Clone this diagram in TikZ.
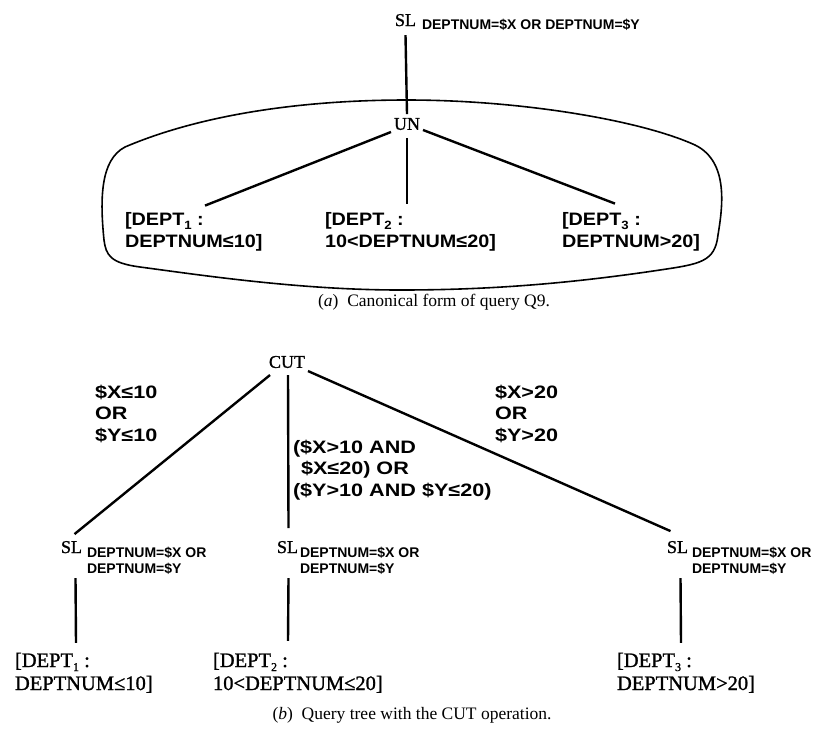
\documentclass[tikz,border=0pt]{standalone}
\usepackage{fontspec}
\setmainfont{Liberation Serif}
\newfontfamily\heavyserif[FakeBold=1.2]{Liberation Serif}
\newfontfamily\subfam{Liberation Sans}
\newfontfamily\deptfam[FakeStretch=1.1]{Liberation Sans}
\newfontfamily\condfam[FakeStretch=1.2]{Liberation Sans}
% text styles
\newcommand{\opfont}{\heavyserif\fontsize{18}{20}\selectfont}
\newcommand{\deptfont}{\deptfam\bfseries\fontsize{18}{22}\selectfont}
\newcommand{\leaffont}{\heavyserif\fontsize{20.5}{23}\selectfont}
\newcommand{\subfont}{\subfam\bfseries\fontsize{14}{16}\selectfont}
\newcommand{\condfont}{\condfam\bfseries\fontsize{18}{21.5}\selectfont}
\newcommand{\capfont}{\fontsize{17.5}{19}\selectfont}
\newcommand{\twolines}[2]{\begin{tabular}[t]{@{}l@{}}#1\\#2\end{tabular}}
\newcommand{\idx}[1]{\raisebox{-4pt}{\fontsize{12}{12}\selectfont #1}}
\begin{document}
\begin{tikzpicture}[x=1pt,y=-1pt,
  txt/.style={inner sep=0pt,outer sep=0pt,anchor=base west},
  edge/.style={line width=2.4pt},
  hull/.style={line width=1.6pt}]
\useasboundingbox (0,0) rectangle (819,729);

% ---------- (a) canonical form ----------
\node[txt] (slA) at (395,26) {\opfont SL};
\node[txt] (slAs) at (422,29) {\subfont DEPTNUM=\$X OR DEPTNUM=\$Y};
\node[txt,anchor=center] (un) at (407,124) {\opfont UN};

\node[txt] (d1) at (125,225) {\deptfont\twolines{[DEPT\idx{1} :}{DEPTNUM≤10]}};
\node[txt] (d2) at (325,225) {\deptfont\twolines{[DEPT\idx{2} :}{10<DEPTNUM≤20]}};
\node[txt] (d3) at (562,225) {\deptfont\twolines{[DEPT\idx{3} :}{DEPTNUM>20]}};

\draw[edge] ([yshift=-9pt]slA.south) -- ([yshift=4pt]un.north);
\draw[edge] ([xshift=-3pt,yshift=-2pt]un.south west) -- ([xshift=80pt,yshift=4pt]d1.north west);
\draw[edge] ([yshift=-8pt]un.south) -- ([xshift=82pt,yshift=6pt]d2.north west);
\draw[edge] ([xshift=3pt,yshift=0pt]un.south east) -- ([xshift=53pt,yshift=6pt]d3.north west);

% enclosing outline of the union
\draw[hull] (104,240) .. controls (100,200) and (100,160) .. (125,147)
  .. controls (200,115) and (300,100) .. (407,100)
  .. controls (520,100) and (640,120) .. (695,145)
  .. controls (730,162) and (722,210) .. (718,235)
  .. controls (715,262) and (700,264) .. (660,270)
  .. controls (560,285) and (480,290) .. (400,290)
  .. controls (300,290) and (200,275) .. (140,267)
  .. controls (110,263) and (106,255) .. (104,240) -- cycle;

\node[anchor=center,inner sep=0pt] (capA) at (434,302) {\capfont (\textit{a})\enspace Canonical form of query Q9.};

% ---------- (b) query tree with CUT ----------
\node[txt,anchor=center] (cut) at (287,362) {\opfont CUT};

\node[txt] (c1) at (95,398) {\condfont\begin{tabular}[t]{@{}l@{}}\$X≤10\\OR\\\$Y≤10\end{tabular}};
\node[txt] (c2) at (293,453) {\condfont\begin{tabular}[t]{@{}l@{}}(\$X>10 AND\\\hspace*{8pt}\$X≤20) OR\\(\$Y>10 AND \$Y≤20)\end{tabular}};
\node[txt] (c3) at (495,398) {\condfont\begin{tabular}[t]{@{}l@{}}\$X>20\\OR\\\$Y>20\end{tabular}};

\node[txt] (sl1) at (61,553) {\opfont SL};
\node[txt] (sl1s) at (87,557) {\subfont\twolines{DEPTNUM=\$X OR}{DEPTNUM=\$Y}};
\node[txt] (sl2) at (277,553) {\opfont SL};
\node[txt] (sl2s) at (300,557) {\subfont\twolines{DEPTNUM=\$X OR}{DEPTNUM=\$Y}};
\node[txt] (sl3) at (667,553) {\opfont SL};
\node[txt] (sl3s) at (692,557) {\subfont\twolines{DEPTNUM=\$X OR}{DEPTNUM=\$Y}};

\node[txt] (b1) at (15,667) {\leaffont\twolines{[DEPT\idx{1} :}{DEPTNUM≤10]}};
\node[txt] (b2) at (213,667) {\leaffont\twolines{[DEPT\idx{2} :}{10<DEPTNUM≤20]}};
\node[txt] (b3) at (617,667) {\leaffont\twolines{[DEPT\idx{3} :}{DEPTNUM>20]}};

\draw[edge] ([xshift=-17pt,yshift=-7pt]cut.south) -- ([xshift=3pt,yshift=7pt]sl1.north);
\draw[edge] ([xshift=1pt,yshift=-7pt]cut.south) -- ([xshift=1pt,yshift=13pt]sl2.north);
\draw[edge] ([xshift=3pt,yshift=-3pt]cut.south east) -- ([xshift=-7pt,yshift=10pt]sl3.north);

\draw[edge] ([xshift=4pt,yshift=-25pt]sl1.south) -- ([xshift=61pt,yshift=8pt]b1.north west);
\draw[edge] ([xshift=1pt,yshift=-25pt]sl2.south) -- ([xshift=75pt,yshift=10pt]b2.north west);
\draw[edge] ([xshift=3pt,yshift=-25pt]sl3.south) -- ([xshift=64pt,yshift=8pt]b3.north west);

\node[anchor=center,inner sep=0pt] (capB) at (412,715) {\capfont (\textit{b})\enspace Query tree with the CUT operation.};
\end{tikzpicture}
\end{document}
